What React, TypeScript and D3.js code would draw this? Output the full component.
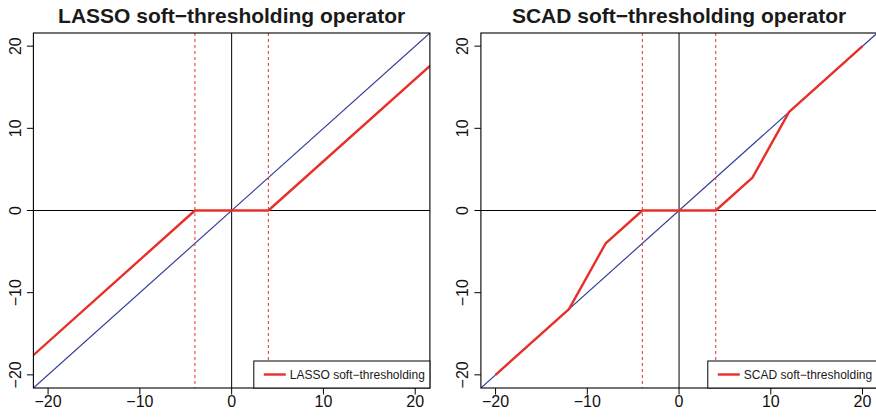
import React, { useEffect, useRef } from "react";
import * as d3 from "d3";

// Soft-thresholding rules with lambda = 4 (SCAD uses a = 3)
const lambdaLines = [-4, 4];
const tickValues = [-20, -10, 0, 10, 20];

const lassoX = [-22, -4, 4, 22];
const lassoY = [-18, 0, 0, 18];

const scadX = [-20, -12, -8, -4, 4, 8, 12, 20];
const scadY = [-20, -12, -4, 0, 0, 4, 12, 20];

const identityX = [-22, 22];
const identityY = [-22, 22];

const panels = [
  {
    id: "lasso",
    title: "LASSO soft\u2212thresholding operator",
    legend: "LASSO soft\u2212thresholding",
    xs: lassoX,
    ys: lassoY,
    left: 33.4,
    right: 429.9,
  },
  {
    id: "scad",
    title: "SCAD soft\u2212thresholding operator",
    legend: "SCAD soft\u2212thresholding",
    xs: scadX,
    ys: scadY,
    left: 480.9,
    right: 877.2,
  },
];

const RED = "#e8302a";
const BLUE = "#33409c";
const FONT = "'Liberation Sans', Arial, Helvetica, sans-serif";

export default function App() {
  const ref = useRef<SVGSVGElement | null>(null);

  useEffect(() => {
    const svg = d3.select(ref.current);
    svg.selectAll("*").remove();

    const top = 33;
    const bottom = 388;

    panels.forEach((p) => {
      const x = d3.scaleLinear().domain([-21.6, 21.6]).range([p.left, p.right]);
      const y = d3.scaleLinear().domain([-21.6, 21.6]).range([bottom, top]);
      const g = svg.append("g");

      const clipId = `clip-${p.id}`;
      g.append("clipPath")
        .attr("id", clipId)
        .append("rect")
        .attr("x", p.left)
        .attr("y", top)
        .attr("width", p.right - p.left)
        .attr("height", bottom - top);

      const plot = g.append("g").attr("clip-path", `url(#${clipId})`);

      // reference axes through the origin
      plot.append("line")
        .attr("x1", x(0)).attr("x2", x(0))
        .attr("y1", top).attr("y2", bottom)
        .attr("stroke", "#000").attr("stroke-width", 1);
      plot.append("line")
        .attr("x1", p.left).attr("x2", p.right)
        .attr("y1", y(0)).attr("y2", y(0))
        .attr("stroke", "#000").attr("stroke-width", 1);

      // identity line
      const line = d3.line<[number, number]>().x((d) => x(d[0])).y((d) => y(d[1]));
      plot.append("path")
        .attr("d", line(d3.zip(identityX, identityY) as [number, number][]))
        .attr("fill", "none").attr("stroke", BLUE).attr("stroke-width", 1.2);

      // threshold markers
      lambdaLines.forEach((v) => {
        plot.append("line")
          .attr("x1", x(v)).attr("x2", x(v))
          .attr("y1", top).attr("y2", bottom)
          .attr("stroke", RED).attr("stroke-width", 1)
          .attr("stroke-dasharray", "3,3");
      });

      // thresholding function
      plot.append("path")
        .attr("d", line(d3.zip(p.xs, p.ys) as [number, number][]))
        .attr("fill", "none").attr("stroke", RED).attr("stroke-width", 2.4)
        .attr("stroke-linejoin", "round");

      // frame
      g.append("rect")
        .attr("x", p.left).attr("y", top)
        .attr("width", p.right - p.left).attr("height", bottom - top)
        .attr("fill", "none").attr("stroke", "#000").attr("stroke-width", 1.1);

      // x axis ticks and labels
      tickValues.forEach((t) => {
        g.append("line")
          .attr("x1", x(t)).attr("x2", x(t))
          .attr("y1", bottom).attr("y2", bottom + 6.5)
          .attr("stroke", "#000").attr("stroke-width", 1);
        g.append("text")
          .attr("x", x(t)).attr("y", 406.5)
          .attr("text-anchor", "middle")
          .attr("font-family", FONT).attr("font-size", 16)
          .attr("fill", "#111")
          .text(t < 0 ? `\u2212${-t}` : `${t}`);
      });

      // y axis ticks and labels (rotated, as in base graphics)
      tickValues.forEach((t) => {
        g.append("line")
          .attr("x1", p.left - 6.5).attr("x2", p.left)
          .attr("y1", y(t)).attr("y2", y(t))
          .attr("stroke", "#000").attr("stroke-width", 1);
        g.append("text")
          .attr("transform", `translate(${p.left - 12.6},${y(t)}) rotate(-90)`)
          .attr("text-anchor", "middle")
          .attr("font-family", FONT).attr("font-size", 16)
          .attr("fill", "#111")
          .text(t < 0 ? `\u2212${-t}` : `${t}`);
      });

      // title
      g.append("text")
        .attr("x", (p.left + p.right) / 2).attr("y", 22.7)
        .attr("text-anchor", "middle")
        .attr("font-family", FONT).attr("font-size", 21).attr("font-weight", "bold")
        .attr("fill", "#1a1a1a")
        .text(p.title);

      // legend in the bottom-right corner
      const lg = g.append("g");
      const label = lg.append("text")
        .attr("y", 379)
        .attr("font-family", FONT).attr("font-size", 12)
        .attr("fill", "#1a1a1a")
        .text(p.legend);
      const tw = (label.node() as SVGTextElement).getComputedTextLength();
      const boxLeft = p.right - (5 + tw + 4 + 22 + 10);
      lg.insert("rect", "text")
        .attr("x", boxLeft).attr("y", 361)
        .attr("width", p.right - boxLeft).attr("height", bottom - 361)
        .attr("fill", "#fff").attr("stroke", "#000").attr("stroke-width", 1);
      label.attr("x", boxLeft + 36);
      lg.append("line")
        .attr("x1", boxLeft + 10).attr("x2", boxLeft + 32)
        .attr("y1", 374.5).attr("y2", 374.5)
        .attr("stroke", RED).attr("stroke-width", 2.4);
    });
  }, []);

  return (
    <svg
      ref={ref}
      width={876}
      height={418}
      style={{ position: "absolute", left: 0, top: 0, background: "#fff" }}
    />
  );
}
